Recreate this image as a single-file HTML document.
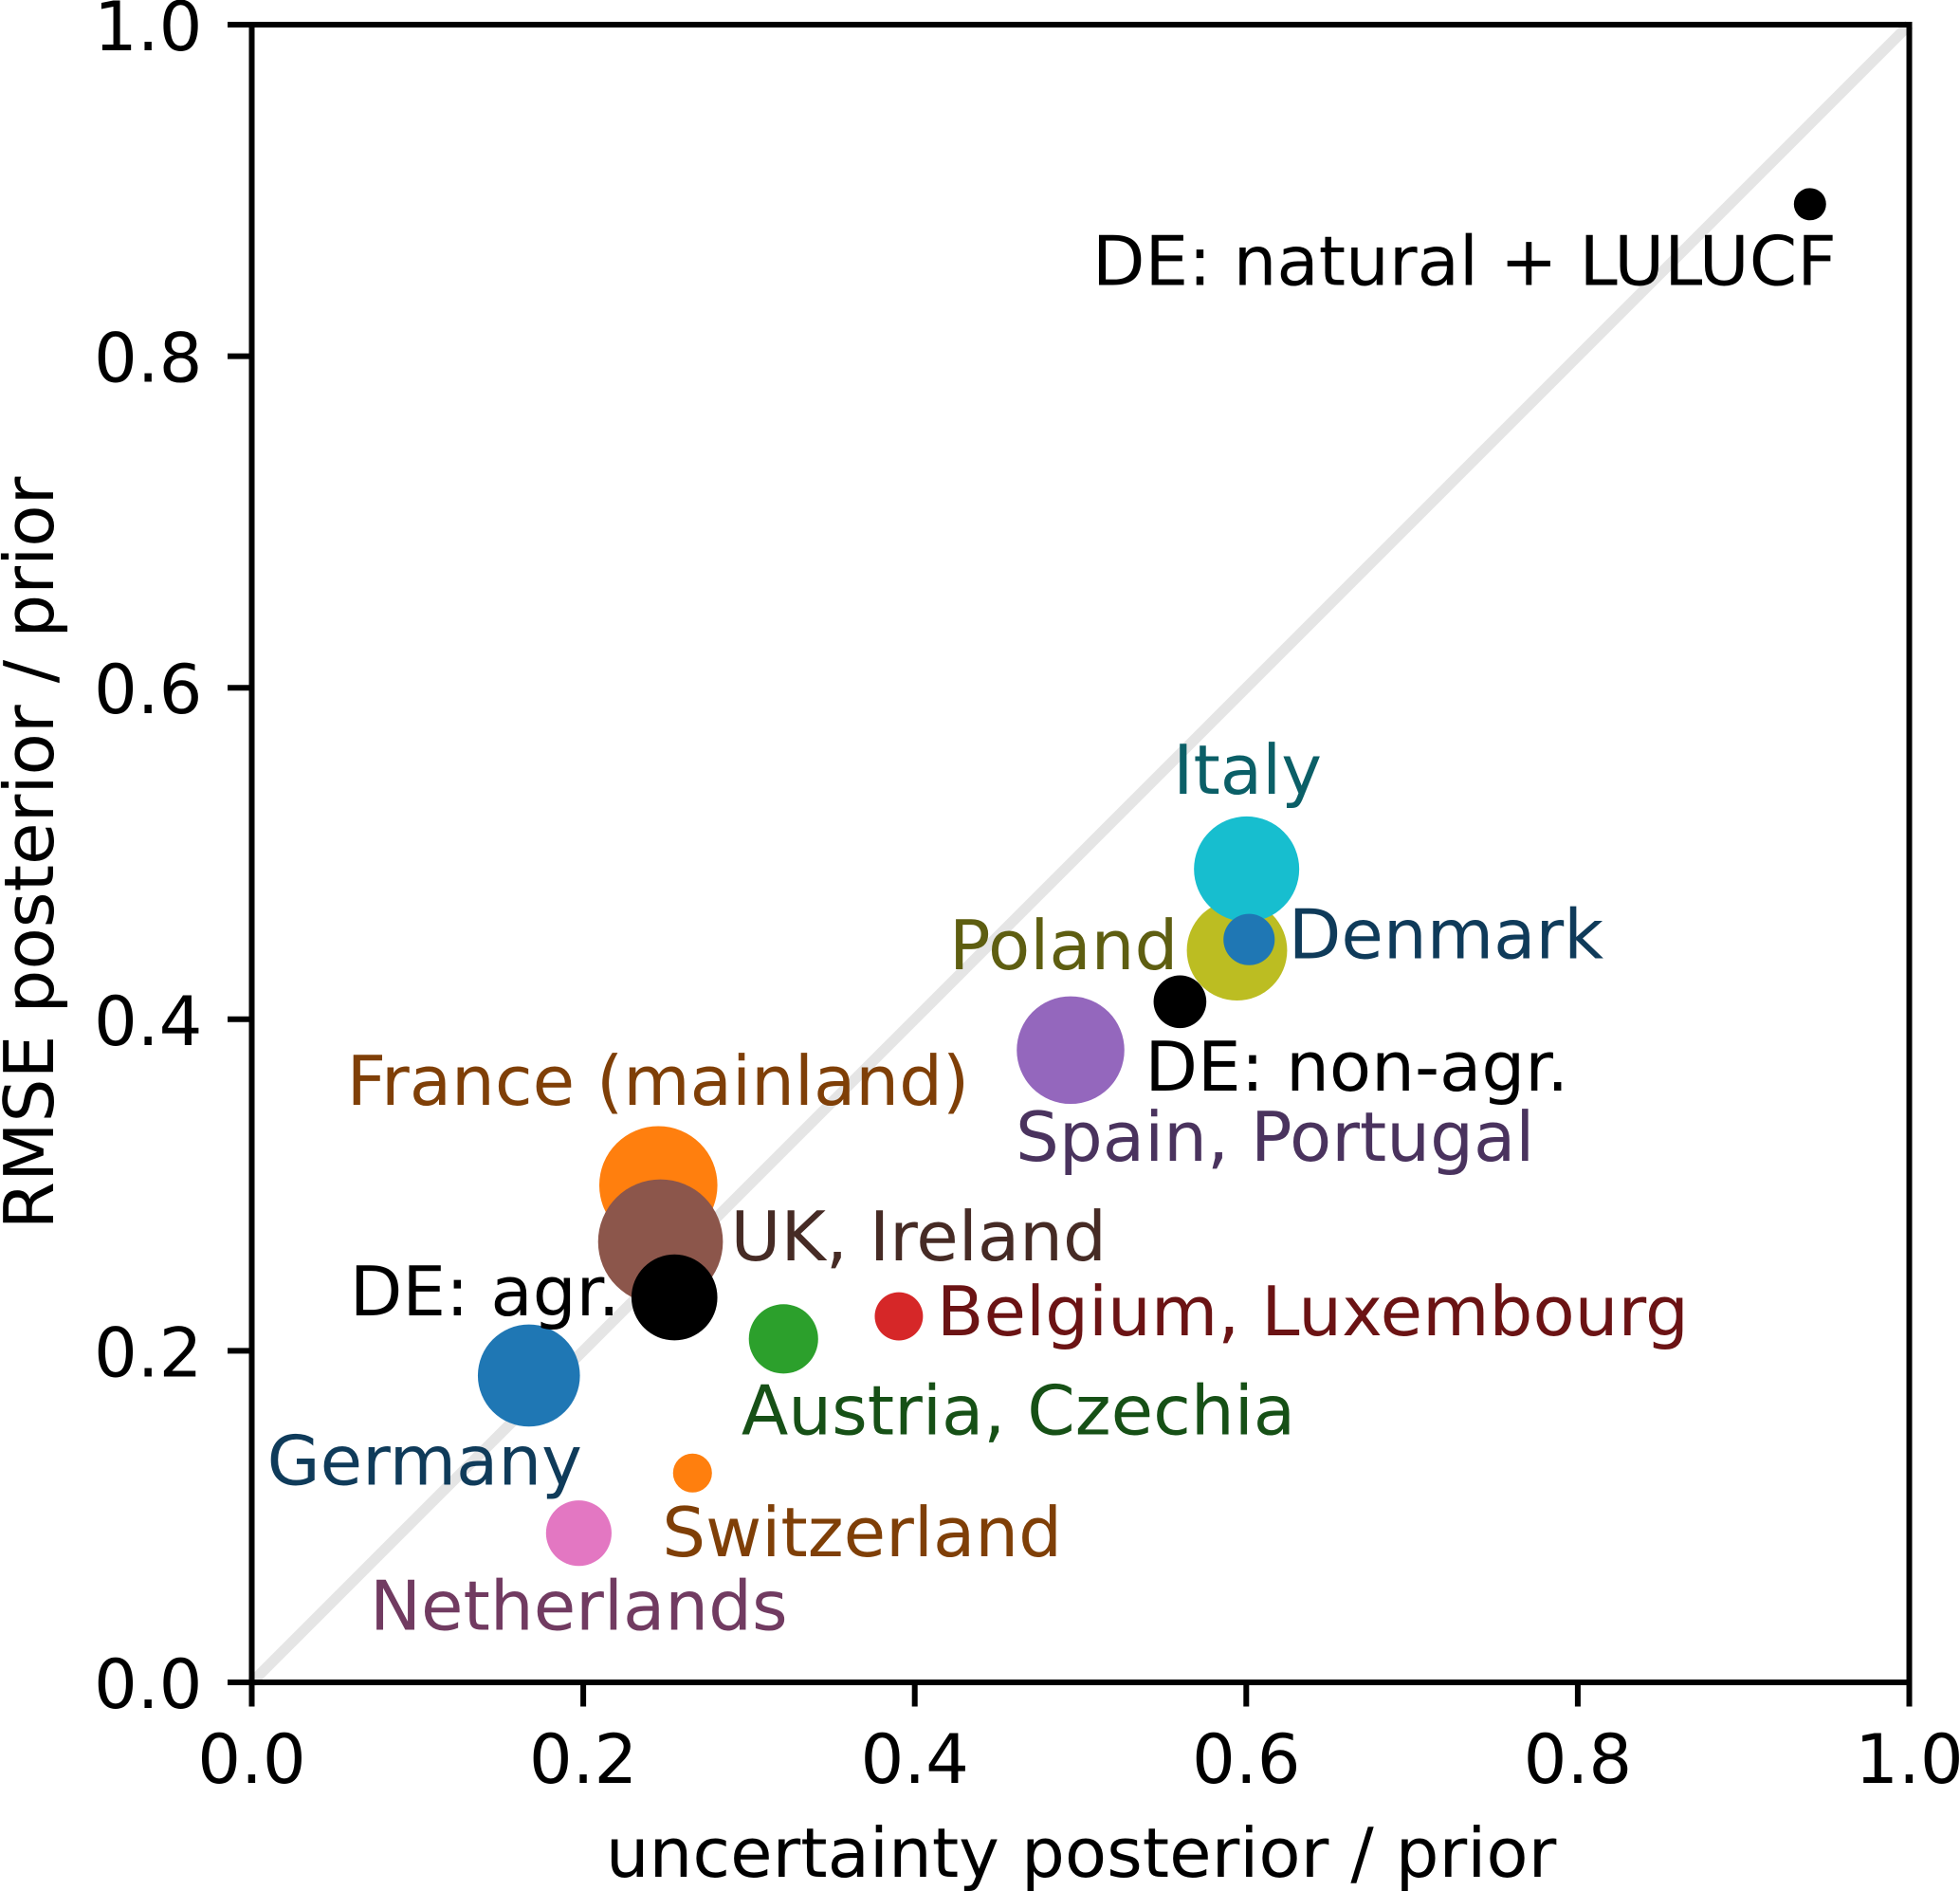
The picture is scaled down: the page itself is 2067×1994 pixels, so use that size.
<!DOCTYPE html>
<html lang="en">
<head>
<meta charset="utf-8">
<title>RMSE versus uncertainty reduction</title>
<style>
  html, body { margin: 0; padding: 0; background: #fff; }
  svg { display: block; }
  text { font-family: "DejaVu Sans", "Liberation Sans", sans-serif; text-rendering: geometricPrecision; }
</style>
</head>
<body>
<svg id="chart" xmlns="http://www.w3.org/2000/svg" width="2067" height="1994" viewBox="0 0 2067 1994">
  <rect x="0" y="0" width="2067" height="1994" fill="#ffffff"/>
  <g id="diagonal-layer"></g>
  <g id="marker-layer"></g>
  <g id="label-layer"></g>
  <g id="axis-layer"></g>
  <text x="1140" y="1979" font-size="72.3" text-anchor="middle" fill="#000">uncertainty posterior / prior</text>
  <text transform="translate(56 899.5) rotate(-90)" x="0" y="0" font-size="72.5" text-anchor="middle" fill="#000">RMSE posterior / prior</text>
</svg>
<script>
const regions = ["Germany", "France (mainland)", "Austria, Czechia", "Belgium, Luxembourg", "Spain, Portugal", "UK, Ireland", "Netherlands", "Poland", "Italy", "Denmark", "Switzerland", "DE: agr.", "DE: non-agr.", "DE: natural + LULUCF"];
const uncertaintyRatio = [0.1672, 0.2453, 0.3208, 0.3904, 0.4940, 0.2466, 0.1973, 0.5944, 0.6002, 0.6017, 0.2659, 0.2550, 0.5600, 0.9401];
const rmseRatio = [0.1851, 0.2999, 0.2072, 0.2208, 0.3814, 0.2658, 0.0900, 0.4416, 0.4906, 0.4481, 0.1263, 0.2322, 0.4106, 0.8917];
const markerArea = [206, 276, 95, 46, 229, 308, 85, 199, 219, 52, 30, 146, 55, 20.5];
const xTickValues = [0, 0.2, 0.4, 0.6, 0.8, 1];
const yTickValues = [0, 0.2, 0.4, 0.6, 0.8, 1];

const NS = "http://www.w3.org/2000/svg";
const plot = { left: 265.5, right: 2013.5, top: 26, bottom: 1774 };
const pxPerPoint = 7.5;
const fontSize = 72.3;
const tickFontSize = 72;
const xScale = v => plot.left + v * (plot.right - plot.left);
const yScale = v => plot.bottom - v * (plot.bottom - plot.top);
const radiusOf = a => Math.sqrt(a) * pxPerPoint / 2;
const slug = s => s.toLowerCase().replace(/[^a-z0-9]+/g, "-").replace(/^-|-$/g, "");

const regionStyle = {
  "Germany": { fill: "#1f77b4", ink: "#0f3b5a", dx: -276.1, dy: 115.1 },
  "France (mainland)": { fill: "#ff7f0e", ink: "#7f3f07", dx: -328.6, dy: -85 },
  "Austria, Czechia": { fill: "#2ca02c", ink: "#165016", dx: -44.4, dy: 100.9 },
  "Belgium, Luxembourg": { fill: "#d62728", ink: "#6b1314", dx: 40, dy: 19.9 },
  "Spain, Portugal": { fill: "#9467bd", ink: "#4a335e", dx: -58, dy: 116.7 },
  "UK, Ireland": { fill: "#8c564b", ink: "#462b25", dx: 74, dy: 19.5 },
  "Netherlands": { fill: "#e377c2", ink: "#713b61", dx: -220.4, dy: 102 },
  "Poland": { fill: "#bcbd22", ink: "#5e5e11", dx: -303.5, dy: 20 },
  "Italy": { fill: "#17becf", ink: "#0b5f67", dx: -77.5, dy: -79.5 },
  "Denmark": { fill: "#1f77b4", ink: "#0f3b5a", dx: 41.5, dy: 19.9 },
  "Switzerland": { fill: "#ff7f0e", ink: "#7f3f07", dx: -32, dy: 87.8 },
  "DE: agr.": { fill: "#000000", ink: "#000000", dx: -342.5, dy: 18.8 },
  "DE: non-agr.": { fill: "#000000", ink: "#000000", dx: -37, dy: 93.7 },
  "DE: natural + LULUCF": { fill: "#000000", ink: "#000000", dx: -756.9, dy: 85.4 }
};

const diagonalLayer = document.getElementById("diagonal-layer");
const markerLayer = document.getElementById("marker-layer");
const labelLayer = document.getElementById("label-layer");
const axisLayer = document.getElementById("axis-layer");

const make = (tag, attrs, parent) => {
  const el = document.createElementNS(NS, tag);
  for (const k in attrs) el.setAttribute(k, attrs[k]);
  parent.appendChild(el);
  return el;
};

const diagonal = make("line", { x1: xScale(0), y1: yScale(0), x2: xScale(1), y2: yScale(1), stroke: "#e5e5e5", "stroke-width": 11.25 }, diagonalLayer);



regions.forEach((name, i) => {
  const style = regionStyle[name];
  const dot = make("circle", { cx: xScale(uncertaintyRatio[i]), cy: yScale(rmseRatio[i]), r: radiusOf(markerArea[i]), fill: style.fill }, markerLayer);
  
  
});

regions.forEach((name, i) => {
  const style = regionStyle[name];
  const label = make("text", { x: xScale(uncertaintyRatio[i]) + style.dx, y: yScale(rmseRatio[i]) + style.dy, "font-size": fontSize, fill: style.ink }, labelLayer);
  label.textContent = name;
  
  
});

const spines = make("rect", { x: plot.left, y: plot.top, width: plot.right - plot.left, height: plot.bottom - plot.top, fill: "none", stroke: "#000", "stroke-width": 6 }, axisLayer);



xTickValues.forEach(v => {
  const tick = make("line", { x1: xScale(v), y1: plot.bottom, x2: xScale(v), y2: plot.bottom + 25.5, stroke: "#000", "stroke-width": 6 }, axisLayer);
  
  
  const text = make("text", { x: xScale(v), y: 1880, "font-size": tickFontSize, "text-anchor": "middle", fill: "#000" }, axisLayer);
  text.textContent = v.toFixed(1);
  
  
});

yTickValues.forEach(v => {
  const tick = make("line", { x1: plot.left - 25.5, y1: yScale(v), x2: plot.left, y2: yScale(v), stroke: "#000", "stroke-width": 6 }, axisLayer);
  
  
  const text = make("text", { x: 213.5, y: yScale(v) + 27, "font-size": tickFontSize, "text-anchor": "end", fill: "#000" }, axisLayer);
  text.textContent = v.toFixed(1);
  
  
});
</script>
</body>
</html>
